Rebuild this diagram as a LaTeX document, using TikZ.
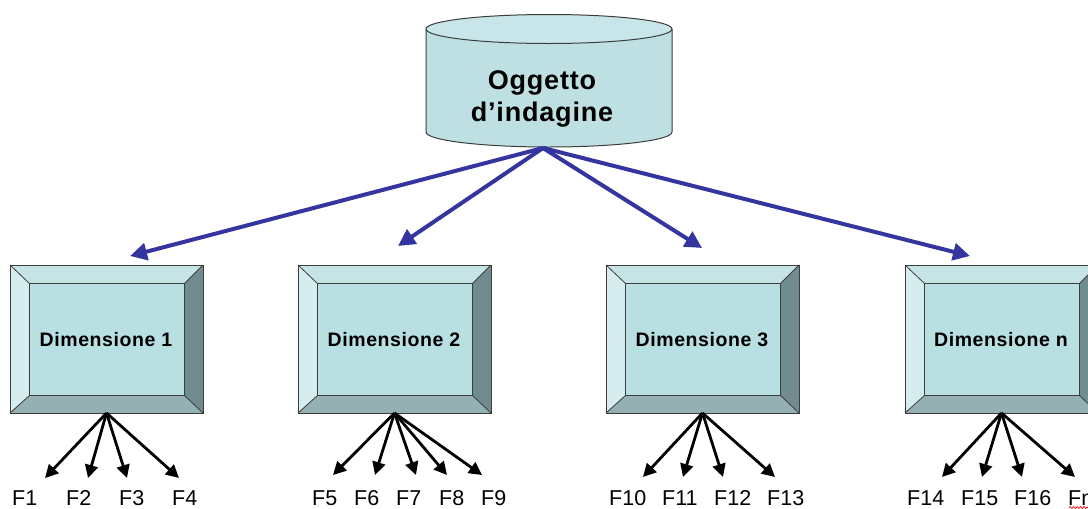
\documentclass[tikz,border=0pt]{standalone}
\usepackage{fontspec}
\setmainfont{Liberation Sans}
\usetikzlibrary{arrows.meta,decorations.pathmorphing}
\definecolor{cylbody}{HTML}{BEE0E3}
\definecolor{cyltop}{HTML}{C8E6E9}
\definecolor{inner}{HTML}{B8DFE2}
\definecolor{bvtop}{HTML}{C6E4E6}
\definecolor{bvleft}{HTML}{D6ECEE}
\definecolor{bvright}{HTML}{708C8E}
\definecolor{bvbottom}{HTML}{94B0B2}
\definecolor{edge}{HTML}{3C3C3C}
\definecolor{arrowblue}{HTML}{3535A0}
\tikzset{
  outerbox/.style={minimum width=193pt, minimum height=148pt, inner sep=0pt, outer sep=0pt},
  innerbox/.style={minimum width=155pt, minimum height=112pt, inner sep=0pt, outer sep=0pt,
    font=\fontsize{19.5}{22}\selectfont\bfseries\addfontfeature{LetterSpace=3}},
  bluearrow/.style={draw=arrowblue, line width=4pt, -{Triangle[length=17pt,width=17pt]}},
  blackarrow/.style={draw=black, line width=2.8pt, -{Triangle[length=13pt,width=13pt]}},
  flabel/.style={anchor=base west, inner sep=0pt, font=\fontsize{21.5}{24}\selectfont},
  edgeline/.style={draw=edge, line width=1pt}
}
\begin{document}
\begin{tikzpicture}[x=1pt,y=-1pt]
\useasboundingbox (0,0) rectangle (1088,509);
\clip (0,0) rectangle (1088,509);

% cylinder
\fill[cylbody] (426,29) -- (426,132) arc[start angle=180,end angle=0,x radius=123,y radius=15] -- (672,29) -- cycle;
\draw[edgeline] (426,29) -- (426,132) arc[start angle=180,end angle=0,x radius=123,y radius=15] -- (672,29);
\draw[edgeline, fill=cyltop] (549,29) ellipse [x radius=123, y radius=14.5];
\node[align=center, inner sep=0pt, font=\fontsize{27}{32}\selectfont\bfseries\addfontfeature{LetterSpace=3}] (obj) at (542,99) {Oggetto\\d’indagine};
\coordinate (top) at (543,148);

% boxes
\foreach \i/\cx/\lab in {1/106.5/Dimensione 1, 2/394.5/Dimensione 2, 3/702.5/Dimensione 3, 4/1001.5/Dimensione n}{
  \node[outerbox] (b\i) at (\cx,339) {};
  \node[innerbox] (d\i) at ([xshift=0.5pt,yshift=-0.5pt]b\i.center) {};
  \fill[bvtop] (b\i.north west) -- (b\i.north east) -- (d\i.north east) -- (d\i.north west) -- cycle;
  \fill[bvleft] (b\i.north west) -- (d\i.north west) -- (d\i.south west) -- (b\i.south west) -- cycle;
  \fill[bvright] (b\i.north east) -- (b\i.south east) -- (d\i.south east) -- (d\i.north east) -- cycle;
  \fill[bvbottom] (b\i.south west) -- (d\i.south west) -- (d\i.south east) -- (b\i.south east) -- cycle;
  \draw[edgeline, line width=0.8pt] (b\i.north west) -- (d\i.north west) (b\i.north east) -- (d\i.north east)
     (b\i.south west) -- (d\i.south west) (b\i.south east) -- (d\i.south east);
  \draw[edgeline] (b\i.north west) rectangle (b\i.south east);
  \draw[edgeline, fill=inner] (d\i.north west) rectangle (d\i.south east);
  \node[innerbox] (t\i) at ([xshift=-1pt]d\i.center) {\lab};
}

% blue arrows
\coordinate (a1) at (130,256);
\coordinate (a2) at (398,246);
\coordinate (a3) at (702,248);
\coordinate (a4) at (970,256);
\foreach \k in {1,...,4} \draw[bluearrow] (top) -- (a\k);

% F labels
\foreach \n/\x in {F1/12, F2/66, F3/119, F4/172, F5/312, F6/354, F7/396, F8/439, F9/481,
  F10/609, F11/662, F12/714, F13/767, F14/907, F15/961, F16/1014, Fn/1068}{
  \node[flabel] (l\n) at (\x,505.5) {\n};
}
\draw[red, line width=0.7pt, decorate, decoration={snake, amplitude=1pt, segment length=3.5pt}] (1069,507.5) -- (1088,507.5);

% black arrows
\foreach \b/\x/\y in {1/45/478, 1/88/478, 1/127/478, 1/179/478,
  2/333/475, 2/375/475, 2/416/475, 2/447/475, 2/482/475,
  3/643/477, 3/683/477, 3/723/477, 3/775/477,
  4/942/477, 4/982/477, 4/1022/477, 4/1075/477}{
  \coordinate (e) at (\x,\y);
  \draw[blackarrow] (b\b.south) -- (e);
}
\end{tikzpicture}
\end{document}
